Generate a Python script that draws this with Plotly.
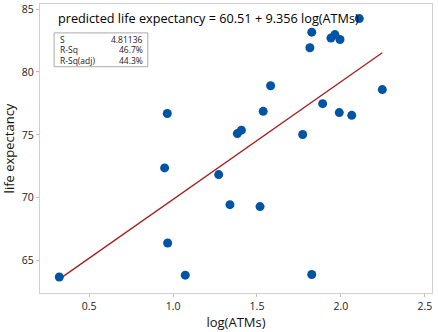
import plotly.graph_objects as go

# log(ATMs) and life expectancy for each country
log_atms = [0.323, 0.950, 0.968, 0.966, 1.073, 1.272, 1.339, 1.383, 1.407, 1.518,
            1.537, 1.581, 1.772, 1.815, 1.826, 1.826, 1.891, 1.940, 1.964, 1.990,
            1.994, 2.064, 2.109, 2.246]
life_exp = [63.7, 72.37, 66.4, 76.7, 63.85, 71.84, 69.45, 75.1, 75.37, 69.3,
            76.87, 78.9, 75.03, 81.92, 83.16, 63.9, 77.48, 82.69, 82.97, 76.77,
            82.58, 76.55, 84.24, 78.6]

# fitted regression
intercept = 60.51
slope = 9.356
fit_stats = [("S", "4.81136"), ("R-Sq", "46.7%"), ("R-Sq(adj)", "44.3%")]

x_ticks = [0.5, 1.0, 1.5, 2.0, 2.5]
y_ticks = [65, 70, 75, 80, 85]

FONT = "Open Sans"
x_lo, x_hi = min(log_atms), max(log_atms)
fit_x = [x_lo, x_hi]
fit_y = [intercept + slope * v for v in fit_x]

fig = go.Figure()
fig.add_trace(go.Scatter(x=fit_x, y=fit_y, mode="lines",
                         line=dict(color="#a31f1f", width=1.3), hoverinfo="skip"))
fig.add_trace(go.Scatter(x=log_atms, y=life_exp, mode="markers",
                         marker=dict(color="#0054a6", size=9, line=dict(width=0))))

axis_common = dict(showgrid=False, zeroline=False, showline=True, mirror=True,
                   linecolor="#cfcfcf", linewidth=1.3, ticks="outside", ticklen=3,
                   tickcolor="#bdbdbd", ticklabeloverflow="allow",
                   tickfont=dict(family=FONT, size=10.5, color="#222"))
fig.update_xaxes(range=[0.208, 2.542], tickvals=x_ticks,
                 ticktext=[f"{v:.1f}" for v in x_ticks],
                 title=dict(text="log(ATMs)", font=dict(family=FONT, size=13, color="#111"),
                            standoff=6), **axis_common)
fig.update_yaxes(range=[62.43, 85.4], tickvals=y_ticks,
                 title=dict(text="life expectancy", font=dict(family=FONT, size=13, color="#111"),
                            standoff=4), **axis_common)

fig.add_annotation(x=0.04, y=0.952, xref="paper", yref="paper", xanchor="left", yanchor="middle",
                   text="predicted life expectancy = %.2f + %.3f log(ATMs)" % (intercept, slope),
                   showarrow=False, font=dict(family=FONT, size=12.7, color="#000"))

# statistics box
fig.add_shape(type="rect", xref="paper", yref="paper", x0=0.036, x1=0.275, y0=0.783, y1=0.9,
              line=dict(color="#aaaaaa", width=1), fillcolor="white")
for i, (name, val) in enumerate(fit_stats):
    yy = 0.876 - i * 0.035
    fig.add_annotation(x=0.045, y=yy, xref="paper", yref="paper", xanchor="left", yanchor="middle",
                       text=name, showarrow=False, font=dict(family=FONT, size=8.5, color="#222"))
    fig.add_annotation(x=0.267, y=yy, xref="paper", yref="paper", xanchor="right", yanchor="middle",
                       text=val, showarrow=False, font=dict(family=FONT, size=8.5, color="#222"))

fig.update_layout(width=438, height=332, margin=dict(l=40, r=6, t=2, b=39),
                  plot_bgcolor="white", paper_bgcolor="white", showlegend=False)

fig.write_html("out.html")
